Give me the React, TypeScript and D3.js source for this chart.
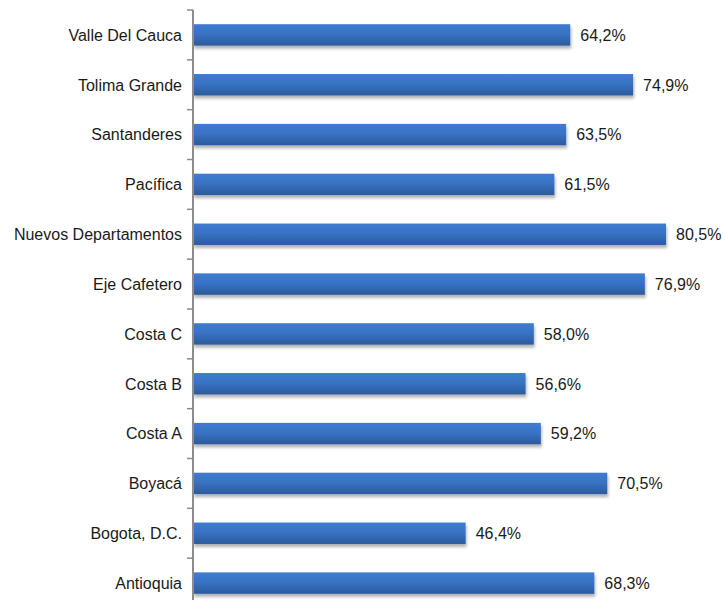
import { useEffect, useRef } from "react";
import * as d3 from "d3";

// ── Data ──────────────────────────────────────────────────────────────────────

const REGIONS = [
  "Valle Del Cauca",
  "Tolima Grande",
  "Santanderes",
  "Pacífica",
  "Nuevos Departamentos",
  "Eje Cafetero",
  "Costa C",
  "Costa B",
  "Costa A",
  "Boyacá",
  "Bogota, D.C.",
  "Antioquia",
];

const VALUES = [64.2, 74.9, 63.5, 61.5, 80.5, 76.9, 58.0, 56.6, 59.2, 70.5, 46.4, 68.3];

// ── Config ────────────────────────────────────────────────────────────────────

const WIDTH  = 725;
const HEIGHT = 600;
const MARGIN = { top: 10, left: 193 };
const PLOT_H = 598;
const FONT   = "'Liberation Sans', Arial, sans-serif";

// ── Component ─────────────────────────────────────────────────────────────────

const App = () => {
  const svgRef = useRef<SVGSVGElement>(null);

  useEffect(() => {
    if (!svgRef.current) return;

    const root = d3.select(svgRef.current);
    root.selectAll("*").remove();

    const defs = root.append("defs");

    const grad = defs.append("linearGradient")
      .attr("id", "barGrad")
      .attr("x1", 0).attr("y1", 0)
      .attr("x2", 0).attr("y2", 1);
    grad.append("stop").attr("offset", "0%").attr("stop-color", "#3d7cd0");
    grad.append("stop").attr("offset", "45%").attr("stop-color", "#3873c4");
    grad.append("stop").attr("offset", "100%").attr("stop-color", "#2b5a9c");

    const shadow = defs.append("filter")
      .attr("id", "barShadow")
      .attr("x", "-5%").attr("y", "-30%")
      .attr("width", "110%").attr("height", "180%");
    shadow.append("feDropShadow")
      .attr("dx", 1).attr("dy", 3)
      .attr("stdDeviation", 1.8)
      .attr("flood-color", "#000")
      .attr("flood-opacity", 0.3);

    const svg = root.append("g")
      .attr("transform", `translate(${MARGIN.left},${MARGIN.top})`);

    const data = REGIONS.map((name, i) => ({ name, value: VALUES[i] }));

    const yScale = d3.scaleBand<string>()
      .domain(REGIONS)
      .range([0, PLOT_H])
      .paddingInner(0.57)
      .paddingOuter(0.285);

    const step = yScale.step();

    const xScale = d3.scaleLinear()
      .domain([0, 100])
      .range([0, 587.6]);

    // Bars
    svg.selectAll(".bar")
      .data(data)
      .join("rect")
      .attr("class", "bar")
      .attr("x", 0)
      .attr("y", (d) => yScale(d.name) ?? 0)
      .attr("width", (d) => xScale(d.value))
      .attr("height", yScale.bandwidth())
      .attr("fill", "url(#barGrad)")
      .attr("filter", "url(#barShadow)");

    // Value labels
    svg.selectAll(".val")
      .data(data)
      .join("text")
      .attr("class", "val")
      .attr("x", (d) => xScale(d.value) + 10)
      .attr("y", (d) => (yScale(d.name) ?? 0) + yScale.bandwidth() / 2)
      .attr("dy", "0.36em")
      .attr("font-family", FONT)
      .attr("font-size", "16px")
      .attr("fill", "#1a1a1a")
      .text((d) => `${d.value.toFixed(1).replace(".", ",")}%`);

    // Category labels
    svg.selectAll(".cat")
      .data(data)
      .join("text")
      .attr("class", "cat")
      .attr("x", -11)
      .attr("y", (d) => (yScale(d.name) ?? 0) + yScale.bandwidth() / 2)
      .attr("dy", "0.36em")
      .attr("text-anchor", "end")
      .attr("font-family", FONT)
      .attr("font-size", "16px")
      .attr("fill", "#1a1a1a")
      .text((d) => d.name);

    // Axis line + ticks at band boundaries
    svg.append("line")
      .attr("x1", 0).attr("x2", 0)
      .attr("y1", 0).attr("y2", PLOT_H)
      .attr("stroke", "#8c8c8c")
      .attr("stroke-width", 2);

    svg.selectAll(".tick")
      .data(d3.range(REGIONS.length + 1))
      .join("line")
      .attr("class", "tick")
      .attr("x1", -6).attr("x2", 0)
      .attr("y1", (i) => i * step)
      .attr("y2", (i) => i * step)
      .attr("stroke", "#8c8c8c")
      .attr("stroke-width", 1.5);
  }, []);

  return (
    <svg
      ref={svgRef}
      width={WIDTH}
      height={HEIGHT}
      style={{ position: "absolute", left: 0, top: 0, background: "#fff" }}
    />
  );
};

export default App;
